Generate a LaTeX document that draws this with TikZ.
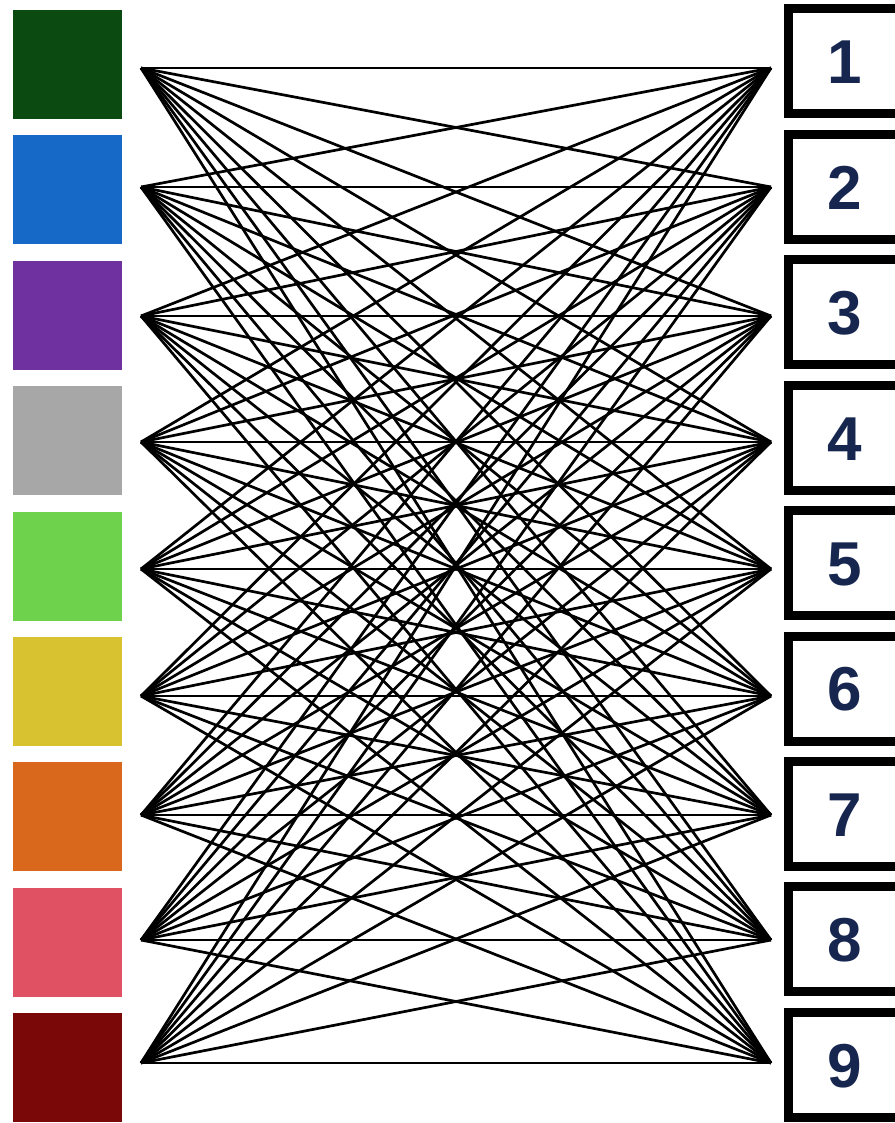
\documentclass[tikz,border=0pt]{standalone}
\usepackage{fontspec}
\setmainfont{Liberation Sans}
\definecolor{c1}{HTML}{0B4A10}
\definecolor{c2}{HTML}{1669C6}
\definecolor{c3}{HTML}{7031A0}
\definecolor{c4}{HTML}{A7A7A7}
\definecolor{c5}{HTML}{6ED24C}
\definecolor{c6}{HTML}{D9C22F}
\definecolor{c7}{HTML}{D9671C}
\definecolor{c8}{HTML}{E05263}
\definecolor{c9}{HTML}{7A0808}
\definecolor{navy}{HTML}{16264F}
\tikzset{
  swatch/.style={rectangle, draw=none, minimum width=109pt, minimum height=109pt, inner sep=0pt},
  numbox/.style={rectangle, draw=black, fill=white, line width=9pt, minimum width=121pt, minimum height=105pt, inner sep=0pt},
  numtext/.style={text=navy, font=\fontsize{62}{62}\selectfont\bfseries, inner sep=0pt},
  link/.style={line width=2.7pt, black}
}
\begin{document}
\begin{tikzpicture}[x=1pt,y=-1pt]
\useasboundingbox (0,0) rectangle (894,1123);
% left swatches
\foreach \i in {1,...,9}{
  \node[swatch, fill=c\i] (L\i) at (67.5,{64.5+(\i-1)*125.4}) {};
}
% right boxes
\foreach \i in {1,...,9}{
  \node[numbox] (B\i) at (849,{61.5+(\i-1)*125.4}) {};
  \node[numtext] (N\i) at (845,{62.5+(\i-1)*125.4}) {\i};
}
% connection points
\foreach \i/\y in {1/68,2/187,3/316,4/442,5/569,6/696,7/815,8/940,9/1063}{
  \coordinate (a\i) at (141,\y);
  \coordinate (b\i) at (771,\y);
}
\foreach \i in {1,...,9}{
  \foreach \j in {1,...,9}{
    \draw[link] (a\i) -- (b\j);
  }
}
\end{tikzpicture}
\end{document}
